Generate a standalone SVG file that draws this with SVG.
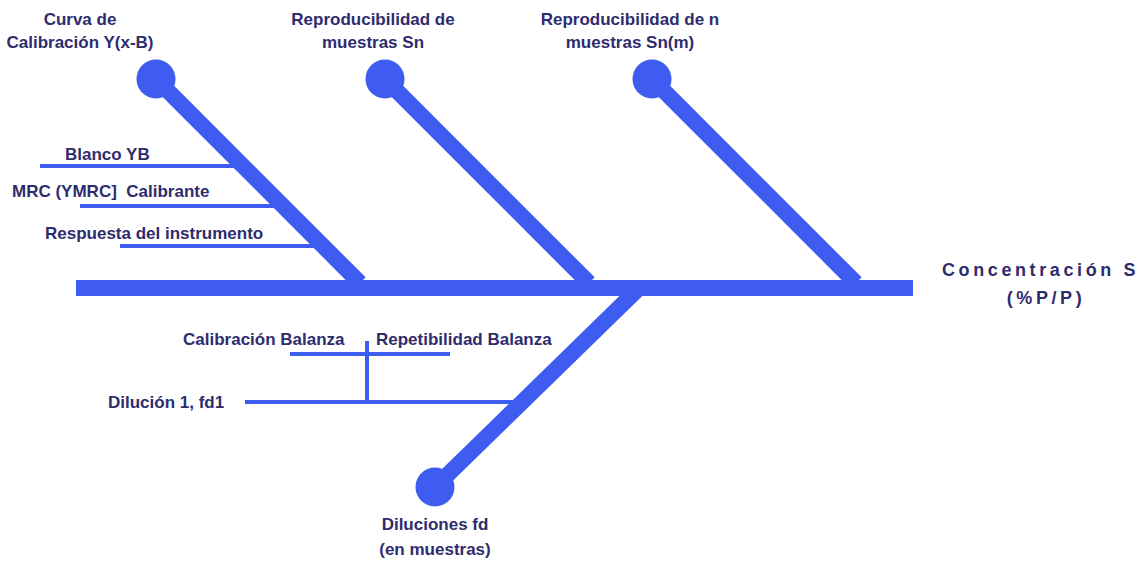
<svg xmlns="http://www.w3.org/2000/svg" width="1146" height="562" viewBox="0 0 1146 562">
<style>
text{font-family:"Liberation Sans",Arial,sans-serif;font-weight:bold;font-size:17px;fill:#2f2c6e}
.t{text-anchor:middle}
.thick{stroke:#3f5cf0;stroke-width:16;fill:none}
.thin{stroke:#3f5cf0;stroke-width:4;fill:none}
.dot{fill:#3f5cf0}
.big{font-size:18px;letter-spacing:3.6px}
</style>
<rect width="1146" height="562" fill="#fff"/>
<g id="connectors">
<line class="thick" x1="76" y1="288" x2="913" y2="288"/>
<line class="thick" x1="156" y1="79" x2="360" y2="283"/>
<line class="thick" x1="385" y1="79" x2="589" y2="283"/>
<line class="thick" x1="652" y1="79" x2="856" y2="283"/>
<line class="thick" x1="435" y1="487" x2="637" y2="290"/>
<line class="thin" x1="40" y1="166" x2="240" y2="166"/>
<line class="thin" x1="80" y1="206" x2="280" y2="206"/>
<line class="thin" x1="120" y1="246" x2="320" y2="246"/>
<line class="thin" x1="245" y1="402" x2="520" y2="402"/>
<line class="thin" x1="367" y1="341" x2="367" y2="402"/>
<line class="thin" x1="290" y1="354" x2="450" y2="354"/>
</g>
<g id="n-curva">
<circle class="dot" cx="156" cy="79" r="19.5"/>
<text class="t" x="80" y="25">Curva de</text>
<text class="t" x="80" y="48">Calibración Y(x-B)</text>
</g>
<g id="n-repro">
<circle class="dot" cx="385" cy="79" r="19.5"/>
<text class="t" x="373" y="25">Reproducibilidad de</text>
<text class="t" x="373" y="48">muestras Sn</text>
</g>
<g id="n-repron">
<circle class="dot" cx="652" cy="79" r="19.5"/>
<text class="t" x="630" y="25">Reproducibilidad de n</text>
<text class="t" x="630" y="48">muestras Sn(m)</text>
</g>
<g id="n-dil">
<circle class="dot" cx="435" cy="487" r="19.5"/>
<text class="t" x="435" y="530">Diluciones fd</text>
<text class="t" x="435" y="555">(en muestras)</text>
</g>
<g id="n-blanco"><text x="65" y="160">Blanco YB</text></g>
<g id="n-mrc"><text x="12" y="197">MRC (YMRC]&#160; Calibrante</text></g>
<g id="n-resp"><text x="45" y="239">Respuesta del instrumento</text></g>
<g id="n-calbal"><text x="183" y="345">Calibración Balanza</text></g>
<g id="n-repbal"><text x="376" y="345">Repetibilidad Balanza</text></g>
<g id="n-dil1"><text x="108" y="408">Dilución 1, fd1</text></g>
<g id="n-conc">
<text class="big" x="942" y="276">Concentración S</text>
<text class="big t" x="1046" y="304">(%P/P)</text>
</g>
</svg>
